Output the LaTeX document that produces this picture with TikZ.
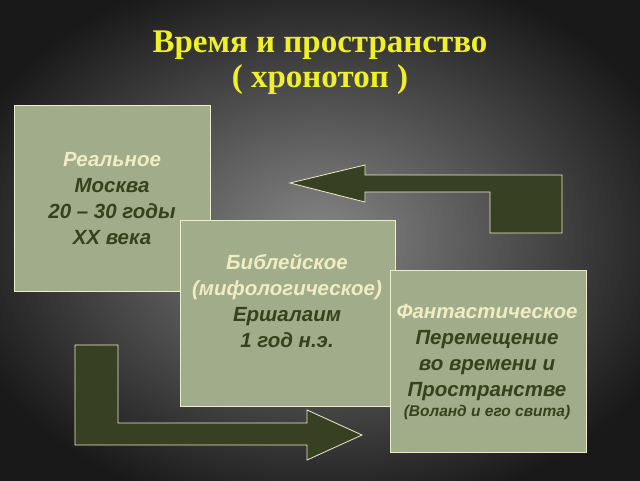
\documentclass[tikz,border=0pt]{standalone}
\usepackage{fontspec}
\setmainfont{Liberation Sans}
\newfontfamily\titlefont{Liberation Serif}
\definecolor{boxgreen}{RGB}{160,172,138}
\definecolor{arrowgreen}{RGB}{56,64,36}
\definecolor{cream}{RGB}{240,236,196}
\definecolor{darktext}{RGB}{52,66,30}
\definecolor{titleyellow}{RGB}{240,240,40}
\tikzset{
  panel/.style={draw=cream, line width=0.8pt, fill=boxgreen, minimum width=#1, inner sep=0pt},
  paneltext/.style={align=center, text=darktext, font=\bfseries\itshape\fontsize{20.5}{26}\selectfont},
  bend arrow/.style={draw=cream, line width=0.8pt, fill=arrowgreen},
  headline/.style={text=titleyellow, font=\titlefont\bfseries\fontsize{33}{34}\selectfont}
}
\begin{document}
\begin{tikzpicture}[x=1pt,y=-1pt]
\useasboundingbox (0,0) rectangle (640,480);
% background
\fill[black] (0,0) rectangle (640,480);
\shade[inner color={rgb,255:red,135;green,135;blue,135}, outer color={rgb,255:red,25;green,25;blue,25}] (-60,-40) rectangle (700,520);
% title
\node[headline] (title1) at (320,45) {Время и пространство};
\node[headline] (title2) at (320,80) {( хронотоп )};
% boxes
\node[panel=196pt, minimum height=186pt] (real) at (112,198) {};
\node[paneltext] (realtext) at (112,199) {\textcolor{cream}{Реальное}\\Москва\\20 – 30 годы\\XX века};
\node[panel=215pt, minimum height=186pt] (bible) at (287.5,313) {};
\node[paneltext] (bibletext) at (287,301) {\textcolor{cream}{Библейское}\\\textcolor{cream}{(мифологическое)}\\Ершалаим\\1 год н.э.};
\node[panel=196pt, minimum height=182pt] (fant) at (488,361) {};
\node[paneltext] (fanttext) at (487,362) {\textcolor{cream}{Фантастическое}\\Перемещение\\во времени и\\Пространстве\\[-6pt]{\fontsize{15.5}{18}\selectfont(Воланд и его свита)}};
% arrows
\draw[bend arrow] (290,183) -- (365,165) -- (365,175) -- (562,175) -- (562,233)
  -- (490,233) -- (490,192) -- (365,192) -- (365,202) -- cycle;
\draw[bend arrow] (75,345) -- (118,345) -- (118,423) -- (307,423) -- (307,410)
  -- (362,435) -- (307,460) -- (307,445) -- (75,445) -- cycle;
\end{tikzpicture}
\end{document}
